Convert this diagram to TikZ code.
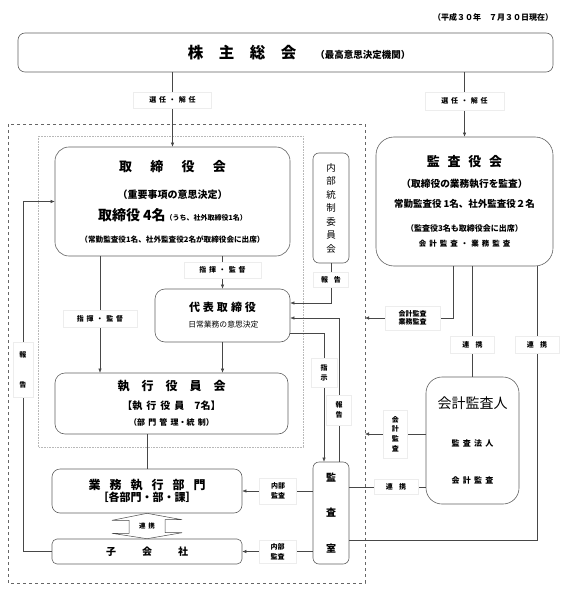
\documentclass[tikz,border=0pt]{standalone}
\usepackage{fontspec}
\setmainfont{Noto Sans CJK JP}
\usetikzlibrary{arrows.meta}
\newcommand\fsz[1]{\fontsize{#1}{#1}\selectfont}
\newcommand\gap{\hspace{0.4em}}
\colorlet{frame color}{black!62}
\colorlet{line color}{black!72}
\tikzset{
    x={1pt},
    y={-1pt},
    organ/.style={
        draw=frame color,
        line width={0.6pt},
        rounded corners={#1},
        align=center,
        inner sep=0pt,
    },
    organ/.default={6pt},
    tag/.style 2 args={
        fill=white,
        draw=black!7,
        font={\fontsize{7}{9.6}\selectfont\bfseries},
        align=center,
        inner sep=0pt,
        minimum width={#1},
        minimum height={#2},
    },
    connector/.style={
        draw=line color,
        line width={0.5pt},
    },
    arrow connector/.style={
        connector,
        -{Latex[length=4pt,width=3.4pt]},
    },
}

\begin{document}
\begin{tikzpicture}
\useasboundingbox (0,0) rectangle (568,596);
% date
\node[font={\fsz{8}\bfseries}] (date) at (493,17) {（平成３０年　７月３０日現在）};
% frames
\draw[dashed, black!60, line width={0.6pt}] (8,124) rectangle (365,583);
\draw[densely dotted, black!28, line width={0.6pt}] (38,136) rectangle (303,447);
% bodies
\node[organ={7pt}, minimum width={535}, minimum height={39}] (kabu) at (285.5,52.5)
    {\hspace{27pt}{\fsz{15.5}\bfseries 株　主　総　会}\hspace{19pt}{\fsz{9.5}\bfseries （最高意思決定機関）}};
\node[organ={14pt}, minimum width={235}, minimum height={109}, font={\fontsize{10}{22}\selectfont}] (tori) at (172.5,201.5)
    {{\fsz{13}\bfseries 取\hspace{1.4em}締\hspace{1.4em}役\hspace{1.4em}会}\\[5pt]
     {\fsz{10}\bfseries （重要事項の意思決定）}\\
     {\fsz{14}\bfseries 取締役 4名}{\fsz{7}\bfseries （うち、社外取締役1名）}\\
     {\fsz{7.6}\bfseries （常勤監査役1名、社外監査役2名が取締役会に出席）}};
\node[organ={10pt}, minimum width={135}, minimum height={53}, font={\fontsize{8}{16}\selectfont}] (daihyo) at (222.5,315.5)
    {{\fsz{11}\bfseries 代\hspace{3pt}表\hspace{3pt}取\hspace{3pt}締\hspace{3pt}役}\\
     {\fsz{7.8} 日常業務の意思決定}};
\node[organ={10pt}, minimum width={233}, minimum height={61}, font={\fontsize{8}{16}\selectfont}] (shikkou) at (171.5,403.5)
    {{\fsz{12}\bfseries 執　行　役　員　会}\\[3pt]
     {\fsz{10}\bfseries 【執\gap 行\gap 役\gap 員　7名】}\\
     {\fsz{8}\bfseries （部\gap 門\gap 管\gap 理・統\gap 制）}};
\node[organ={8pt}, minimum width={190}, minimum height={44}, font={\fontsize{8}{12}\selectfont}] (gyomu) at (147,491)
    {{\fsz{12}\bfseries 業\hspace{0.75em}務\hspace{0.75em}執\hspace{0.75em}行\hspace{0.75em}部\hspace{0.75em}門}\\
     {\fsz{11}\bfseries ［各部門・部・課］}};
\node[organ={5pt}, minimum width={190}, minimum height={25}] (kogaisha) at (147,551.5)
    {\fsz{10}\bfseries 子\hspace{2.6em}会\hspace{2.6em}社};
\node[organ={6pt}, minimum width={36}, minimum height={110}, font={\fontsize{9.5}{13.5}\selectfont}] (naibu) at (331,208)
    {内\\部\\統\\制\\委\\員\\会};
\node[organ={6pt}, minimum width={36}, minimum height={102}, font={\fontsize{10}{35.5}\selectfont\bfseries}] (kansashitsu) at (331,513)
    {監\\査\\室};
\node[organ={18pt}, minimum width={177}, minimum height={129}, font={\fontsize{9}{20}\selectfont\bfseries}] (kansayaku) at (464.5,201.5)
    {{\fsz{13}監\hspace{0.6em}査\hspace{0.6em}役\hspace{0.6em}会}\\[1pt]
     {\fsz{9.7}（取締役の業務執行を監査）}\\
     {\fsz{9.5}常勤監査役 1名、社外監査役２名}\\[4pt]
     {\fsz{8}（監査役3名も取締役会に出席）}\\[-5pt]
     {\fsz{7.5}会\gap 計\gap 監\gap 査\gap ・\gap 業\gap 務\gap 監\gap 査}};
\node[organ={16pt}, minimum width={93}, minimum height={127}, font={\fontsize{8}{37.5}\selectfont}] (kaikei) at (472.5,440.5)
    {{\fsz{14}会計監査人}\\
     {\fsz{8}\bfseries 監\gap 査\gap 法\gap 人}\\
     {\fsz{8}\bfseries 会\gap 計\gap 監\gap 査}};
% helper columns
\coordinate (col-cmd) at (100,0);
\coordinate (col-rep) at (23,0);
\coordinate (dash-acc) at (365,318);
% connectors
\draw[arrow connector] (kabu.south -| tori.north) -- node[tag={78}{16}, pos=0.373] (sel-left) {選\gap 任\gap ・\gap 解\gap 任} (tori.north);
\draw[arrow connector] (kabu.south -| kansayaku.north) -- node[tag={79}{18}, pos=0.446] (sel-right) {選\gap 任\gap ・\gap 解\gap 任} (kansayaku.north);
\draw[arrow connector] (tori.south -| col-cmd) -- node[tag={74}{17}, pos=0.54] (cmd-left) {指\gap 揮\gap ・\gap 監\gap 督} (shikkou.north -| col-cmd);
\draw[arrow connector] (tori.south -| daihyo.north) -- node[tag={77}{16}, pos=0.42] (cmd-right) {指\gap 揮\gap ・\gap 監\gap 督} (daihyo.north);
\draw[arrow connector] (daihyo.south) -- (daihyo.south |- shikkou.north);
\draw[arrow connector] (naibu.south) |- node[tag={35}{15}, pos=0.21] (rep-naibu) {報\hspace{0.8em}告} ([yshift=12.5pt]daihyo.east);
\draw[arrow connector] ([xshift=8pt]kansashitsu.north) |- node[tag={25}{30}, pos=0.18] (rep-shitsu) {報\\告} ([yshift=-2.5pt]daihyo.east);
\draw[arrow connector] ([yshift=-17.5pt]daihyo.east) -| node[tag={26}{29}, pos=0.655] (order) {指\\示} ([xshift=-7pt]kansashitsu.north);
\draw[arrow connector] ([xshift=-11.5pt]kansayaku.south) |- node[tag={55}{24}, pos=0.73, font={\fontsize{7}{8}\selectfont\bfseries}] (audit-tag) {会計監査\\業務監査} (dash-acc);
\draw[connector] (kansayaku.south -| kaikei.north) -- node[tag={44}{17}, pos=0.71] (link-a) {連\hspace{0.9em}携} (kaikei.north);
\draw[connector] ([xshift=72.5pt]kansayaku.south) |- node[tag={44}{17}, pos=0.144] (link-b) {連\hspace{0.9em}携} ([yshift=-27pt]kansashitsu.east);
\draw[arrow connector] ([yshift=6.5pt]kaikei.west) -- node[tag={24}{48}] (acc-tag) {会\\計\\監\\査} ([yshift=6.5pt]kaikei.west -| dash-acc);
\draw[connector] ([yshift=26pt]kansashitsu.east) -- node[tag={44}{15}, pos=0.61] (link-c) {連\hspace{0.9em}携} ([yshift=26pt]kansashitsu.east -| kaikei.west);
\draw[arrow connector] (kansashitsu.west |- gyomu.east) -- node[tag={37}{26}, pos=0.49] (int-a) {内部\\監査} (gyomu.east);
\draw[arrow connector] (kansashitsu.west |- kogaisha.east) -- node[tag={37}{23}] (int-b) {内部\\監査} (kogaisha.east);
\draw[arrow connector] (kogaisha.west) -- (kogaisha.west -| col-rep) -- node[tag={20}{55}, pos=0.52, font={\fontsize{7}{30}\selectfont\bfseries}] (rep-sub) {報\\告} (tori.west -| col-rep) -- (tori.west);
\draw[connector] (shikkou.south -| gyomu.north) -- (gyomu.north);
% double arrow between departments and subsidiaries
\draw[connector, fill=white] (gyomu.south) -- ++(-35,7) -- ++(17,0) -- ++(0,13) -- ++(-17,0) -- (kogaisha.north) -- ++(35,-6) -- ++(-17,0) -- ++(0,-13) -- ++(17,0) -- cycle;
\path (gyomu.south) -- node[font={\fsz{6.5}\bfseries}] (link-d) {連\gap 携} (kogaisha.north);
\end{tikzpicture}
\end{document}
